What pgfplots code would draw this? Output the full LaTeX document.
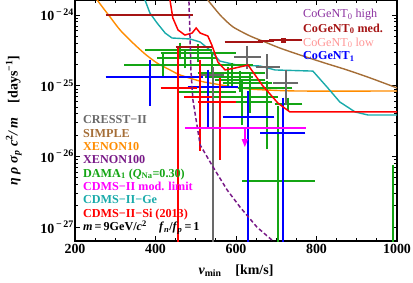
\documentclass[border=0pt]{standalone}
\usepackage{fontspec}
\setmainfont{Liberation Serif}
\usepackage{pgfplots}
\pgfplotsset{compat=1.18}
\usetikzlibrary{arrows.meta}
\definecolor{cgray}{RGB}{105,105,105}
\definecolor{cbrown}{RGB}{165,110,55}
\definecolor{corange}{RGB}{255,140,0}
\definecolor{cpurple}{RGB}{120,25,135}
\definecolor{cgreen}{RGB}{20,165,20}
\definecolor{cmag}{RGB}{255,0,255}
\definecolor{ccyan}{RGB}{25,170,170}
\definecolor{cred}{RGB}{255,0,0}
\definecolor{cdred}{RGB}{165,20,20}
\definecolor{cpink}{RGB}{255,150,150}
\definecolor{chigh}{RGB}{140,50,160}
\definecolor{cblue}{RGB}{0,0,255}
\newcommand{\tl}[1]{10\raisebox{0.85ex}{\fontsize{10}{10}\selectfont\,−\,#1}}
\pgfplotsset{
 xycross/.style={only marks, mark=none, mark size=0pt, mark options={draw=none, fill=none},
   error bars/.cd, x dir=both, y dir=both, x explicit, y explicit,
   error bar style={line width=1.5pt},
   error mark options={line width=1.5pt, mark size=2.5pt}},
 xcross/.style={only marks, mark=none, mark size=0pt, mark options={draw=none, fill=none},
   error bars/.cd, x dir=both, x explicit,
   error bar style={line width=1.5pt},
   error mark options={line width=1.5pt, mark size=2.5pt}},
}
\begin{document}
\begin{tikzpicture}
\begin{axis}[
 at={(0,0)}, anchor=south west,
 scale only axis, width=322bp, height=241bp,
 xmin=200, xmax=1000, ymin=6.35e-28, ymax=1.63e-24,
 ymode=log,
 xtick={200,400,600,800,1000}, xticklabels={200,400,600,800,1000},
 minor x tick num=3,
 ytick={1e-27,1e-26,1e-25,1e-24},
 yticklabels={\tl{27},\tl{26},\tl{25},\tl{24}},
 tick label style={font=\fontsize{14}{14}\selectfont\bfseries},
 yticklabel style={inner xsep=1.5bp},
 tick align=inside,
 major tick length=5bp, minor tick length=3bp,
 every tick/.style={black, line width=0.8pt},
 axis line style={line width=1.2pt},
 xlabel={{\itshape v}\textsubscript{min}\quad[km/s]},
 ylabel={{\itshape η ρ σ\textsubscript{p} c\textsuperscript{\upshape 2}/ m}\quad[days\textsuperscript{−1}]},
 xlabel style={at={(axis description cs:0.5,-0.137)}, anchor=base, font=\fontsize{14}{16}\selectfont\bfseries},
 ylabel style={at={(axis description cs:-0.19,0.5)}, anchor=center, font=\fontsize{14}{16}\selectfont\bfseries},
]
% XENON10
\addplot[corange, line width=1.4pt, smooth, tension=0.4] coordinates {
(245,1.92e-24) (255,1.63e-24) (270,1.256e-24) (287,9.4e-25) (312,6.14e-25) (344,4.02e-25) (374,2.81e-25) (404,2.09e-25) (436,1.67e-25) (461,1.42e-25) (511,1.16e-25) (548,1.06e-25) (593,9.6e-26) (635,8.97e-26) (677,8.69e-26) (759,8.41e-26) (1000,8.41e-26)};
% SIMPLE
\addplot[cbrown, line width=1.4pt, smooth, tension=0.4] coordinates {
(523,1.86e-24) (530,1.63e-24) (548,1.216e-24) (565,9.4e-25) (593,6.76e-25) (635,5.05e-25) (672,4.15e-25) (709,3.41e-25) (759,2.72e-25) (821,2.09e-25) (876,1.67e-25) (933,1.29e-25) (1000,9.3e-26)};
% CDMS-II-Ge
\addplot[ccyan, line width=1.4pt] coordinates {
(369,1.92e-24) (374,1.63e-24) (386,1.07e-24) (404,7.7e-25) (424,5.56e-25) (441,4.73e-25) (486,4.58e-25) (511,4.15e-25) (535,3.2e-25) (560,2.23e-25) (602,1.96e-25) (660,1.90e-25) (697,1.67e-25) (791,1.61e-25) (826,9.6e-26) (858,5.88e-26) (896,4.25e-26) (928,3.85e-26) (1000,3.85e-26)};
% DAMA
\addplot[cgreen, xycross] coordinates {
(419,1.96e-25) += (92,0.76e-25) -= (90,0.45e-25)
(461,3.20e-25) += (74,0.56e-25) -= (82,0.65e-25)
(506,2.90e-25) += (87,0.63e-25) -= (87,0.59e-25)
(473,2.47e-25) += (70,0.53e-25) -= (62,0.57e-25)
(540,1.96e-25) += (95,0.59e-25) -= (104,0.54e-25)
(580,1.33e-25) += (55,0.34e-25) -= (52,0.31e-25)
(610,1.20e-25) += (57,0.31e-25) -= (57,0.33e-25)
(635,1.09e-25) += (49,0.33e-25) -= (62,0.35e-25)
(511,8.14e-26) += (82,2.06e-26) -= (50,1.86e-26)
(635,5.88e-26) += (49,1.5e-26) -= (50,1.35e-26)
(590,1.51e-25) += (77,0.45e-25) -= (79,0.42e-25)
(615,6.92e-26) += (82,3.98e-26) -= (80,3.95e-26)
(677,9.3e-26) += (57,1.6e-26) -= (67,7.94e-26)
(704,4.49e-27) += (85,4.39e-26) -= (82,4.39e-27)
(729,5.51e-26) += (30,0.77e-26) -= (27,0.67e-26)
(990,9.1e-28) += (0,5.95e-27) -= (0,9.0e-28)
};
% CRESST-II
\addplot[cgray, xycross] coordinates {
(543,1.42e-25) += (22,0.25e-25) -= (25,1.419e-25)
(627,2.55e-25) += (28,0.86e-25) -= (25,0.71e-25)
(677,1.84e-25) += (25,0.71e-25) -= (22,0.51e-25)
(724,1.09e-25) += (25,0.47e-25) -= (25,0.52e-25)
};
% CoGeNT1
\addplot[cblue, xycross] coordinates {
(386,1.33e-25) += (125,0.83e-25) -= (104,0.761e-25)
(530,9.6e-26) += (68,6.0e-26) -= (44,6.82e-26)
(630,3.6e-26) += (59,4.28e-26) -= (57,3.59e-26)
(717,2.14e-26) += (49,4.14e-26) -= (50,2.13e-26)
};
% red crosses
\addplot[cred, xycross] coordinates {
(456,9.3e-26) += (42,2.27e-25) -= (37,9.29e-26)
(511,6.92e-26) += (24,1.47e-25) -= (33,5.61e-26)
(560,5.88e-26) += (33,6.12e-26) -= (49,4.9e-26)
};
% CoGeNT0 med.
\addplot[cdred, xcross] coordinates {
(386,1e-24) += (100,0) -= (104,0)
(496,3.53e-25) += (39,0) -= (40,0)
(602,4.15e-25) += (25,0) -= (24,0)
(645,4.15e-25) += (15,0) -= (18,0)
(675,4.29e-25) += (14,0) -= (15,0)
};
\addplot[cdred, only marks, mark=square*, mark size=2pt,
   error bars/.cd, x dir=both, x explicit,
   error bar style={line width=1.5pt},
   error mark options={line width=1.5pt, mark size=2.5pt}] coordinates {
(717,4.43e-25) += (42,0) -= (28,0)
};
% CDMS-II-Si
\addplot[cred, line width=1.5pt] coordinates {
(434,1.92e-24) (436,1.63e-24) (443,9.1e-25) (456,6.14e-25) (473,5.21e-25) (491,5.56e-25) (501,6.55e-25) (511,5.56e-25) (530,5.05e-25) (540,3.76e-25) (555,2.16e-25) (573,1.67e-25) (598,1.78e-25) (630,1.96e-25) (665,1.02e-25) (704,5.69e-26) (734,4.25e-26) (1000,4.25e-26)};
% XENON100
\addplot[cpurple, line width=1.5pt, dash pattern=on 4bp off 2.5bp] coordinates {
(483,1.92e-24) (483,1.63e-24) (486,4.43e-25) (488,1.67e-25) (493,6.28e-26) (501,3.27e-26) (511,1.45e-26) (543,7.08e-27) (578,3.35e-27) (610,1.92e-27) (652,1e-27) (692,6.35e-28) (697,5.58e-28)};
% CDMS-II mod. limit
\addplot[cmag, line width=1.6pt] coordinates {(473,2.52e-26) (774,2.52e-26)};
\addplot[cmag, line width=1.4pt, -{Triangle[width=6bp,length=8bp]}] coordinates {(622,2.52e-26) (622,1.35e-26)};
\end{axis}
\begin{scope}[every node/.style={anchor=base west, font=\fontsize{12.2}{13}\selectfont\bfseries, inner sep=0pt}]
\node[text=cgray] at (8bp,117bp) {CRESST−II};
\node[text=cbrown] at (8bp,103.7bp) {SIMPLE};
\node[text=corange] at (8bp,90.4bp) {XENON10};
\node[text=cpurple] at (8bp,77.1bp) {XENON100};
\node[text=cgreen] at (8bp,63.8bp) {DAMA\textsubscript{1} (\textit{Q}\textsubscript{Na}=0.30)};
\node[text=cmag] at (8bp,50.5bp) {CDMS−II mod. limit};
\node[text=ccyan] at (8bp,37.2bp) {CDMS−II−Ge};
\node[text=cred] at (8bp,23.9bp) {CDMS−II−Si (2013)};
\node[text=black] at (8bp,10.6bp) {\textit{m}\,=\,9GeV/\textit{c}\textsuperscript{2}\quad\textit{f}\textsubscript{\textit{n}}/\textit{f}\textsubscript{\textit{p}}\,=\,1};
\node[text=chigh, font=\fontsize{12.2}{13}\selectfont\mdseries] at (228bp,223.3bp) {CoGeNT\textsubscript{0} high};
\node[text=cdred] at (228bp,208.8bp) {CoGeNT\textsubscript{0} med.};
\node[text=cpink, font=\fontsize{12.2}{13}\selectfont\mdseries] at (228bp,194.8bp) {CoGeNT\textsubscript{0} low};
\node[text=cblue] at (228bp,181.3bp) {CoGeNT\textsubscript{1}};
\end{scope}
\pgfresetboundingbox
\path[use as bounding box] (-75bp,-42bp) rectangle (338bp,241bp);
\end{tikzpicture}
\end{document}
